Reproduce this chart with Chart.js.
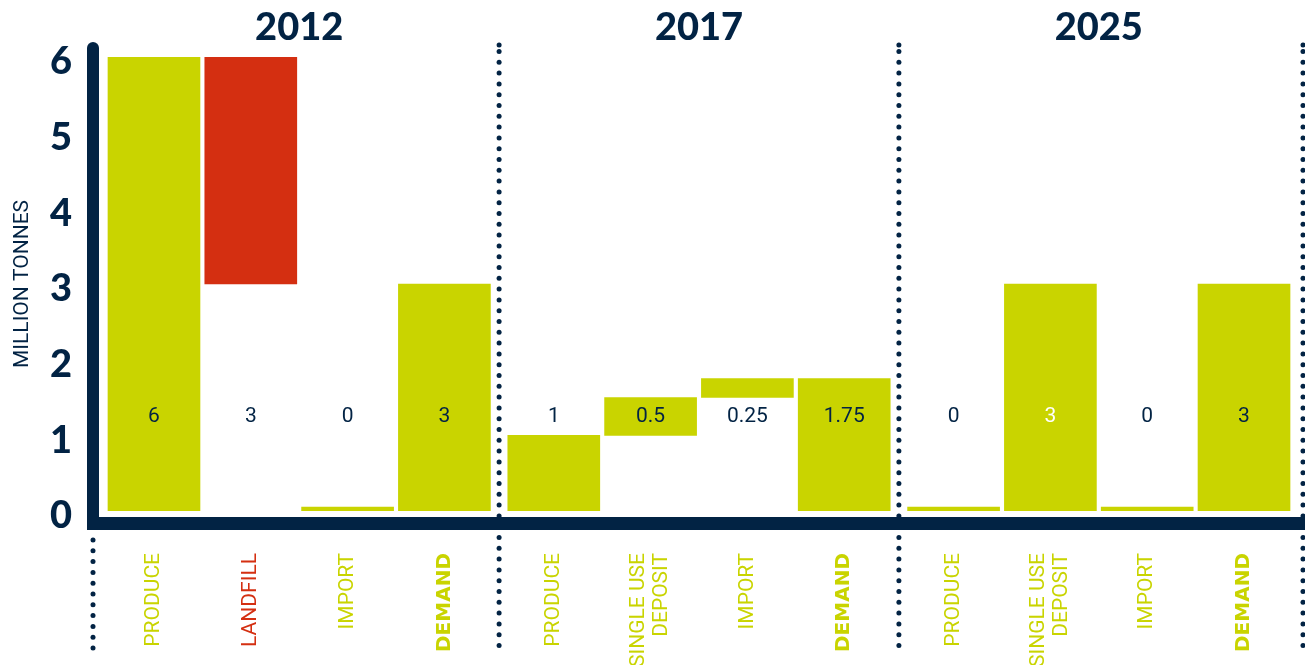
<!DOCTYPE html>
<html><head><meta charset="utf-8">
<script src="https://cdn.jsdelivr.net/npm/chart.js@4.4.1/dist/chart.umd.min.js"></script>
<style>html,body{margin:0;padding:0;background:#fff;overflow:hidden;}canvas{display:block;}</style>
</head><body>
<canvas id="c" width="1305" height="665"></canvas>
<script>
// ---- data ----
const groups = ['2012', '2017', '2025'];
const groupOf = [0, 0, 0, 0, 1, 1, 1, 1, 2, 2, 2, 2];
const categories = [
  'PRODUCE', 'LANDFILL', 'IMPORT', 'DEMAND',
  'PRODUCE', ['SINGLE USE', 'DEPOSIT'], 'IMPORT', 'DEMAND',
  'PRODUCE', ['SINGLE USE', 'DEPOSIT'], 'IMPORT', 'DEMAND'
];
const amounts = [6, 3, 0, 3, 1, 0.5, 0.25, 1.75, 0, 3, 0, 3];
const bases   = [0, 3, 0, 0, 0, 1, 1.5, 0, 0, 0, 0, 0];
const yTicks = [0, 1, 2, 3, 4, 5, 6];
const yTitle = 'MILLION TONNES';

// ---- style ----
const NAVY = '#022344', LIME = '#c9d400', RED = '#d42f11';
const GROUP_STRIDE = 4.13;           // slot units per group (incl. gap)
const VALUE_LABEL_LEVEL = 1.25;      // y value where amount labels sit
const isLandfill = c => c === 'LANDFILL';
const isDemand = c => c === 'DEMAND';
const slotPos = categories.map((c, i) => groupOf[i] * GROUP_STRIDE + (i - groupOf.indexOf(groupOf[i])));
const barColors = categories.map(c => isLandfill(c) ? RED : LIME);
const labelColors = categories.map((c, i) => (groupOf[i] === 2 && Array.isArray(c)) ? '#ffffff' : NAVY);
const SANS = "Roboto, sans-serif";

const decor = {
  id: 'decor',
  beforeDraw(chart) {
    // centre multi-line rotated category labels on their bars
    const x = chart.scales.x;
    const items = x.getLabelItems(chart.chartArea);
    items.forEach(it => {
      if (Array.isArray(it.label) && it.label.length > 1) {
        it.options.translation[0] -= (it.label.length - 1) * it.font.lineHeight / 2;
      }
    });
  },
  beforeDatasetsDraw(chart) {
    const {ctx, chartArea: ca, scales: {x}} = chart;
    ctx.save();
    ctx.fillStyle = NAVY;
    const dot = (px, y) => { ctx.beginPath(); ctx.arc(px, y, 2.5, 0, Math.PI * 2); ctx.fill(); };
    const dotCol = (px, y0, y1) => { for (let y = y0; y <= y1; y += 10.8) dot(px, y); };
    for (let g = 0; g < groups.length - 1; g++) {
      const lastI = groupOf.lastIndexOf(g), firstI = groupOf.indexOf(g + 1);
      const px = (x.getPixelForValue(slotPos[lastI]) + x.getPixelForValue(slotPos[firstI])) / 2;
      dotCol(px, ca.top - 5.5, 650);
      dot(px, ca.top - 12);
    }
    dotCol(ca.right - 2, ca.top - 5.5, 650);
    dot(ca.right - 2, ca.top - 12);
    dotCol(ca.left - 6, ca.bottom + 29, 650);
    ctx.restore();
  },
  afterDatasetsDraw(chart) {
    const {ctx, chartArea: ca, scales: {x, y}} = chart;
    ctx.save();
    // axes
    ctx.strokeStyle = NAVY;
    ctx.lineWidth = 12;
    ctx.lineCap = 'round';
    ctx.beginPath(); ctx.moveTo(ca.left - 6, ca.top - 9); ctx.lineTo(ca.left - 6, ca.bottom + 12); ctx.stroke();
    ctx.fillStyle = NAVY;
    ctx.fillRect(ca.left - 12, ca.bottom + 6, ca.right - ca.left + 12, 13);
    // amount labels
    ctx.font = "400 21px " + SANS;
    ctx.textAlign = 'center'; ctx.textBaseline = 'middle';
    const ly = y.getPixelForValue(VALUE_LABEL_LEVEL);
    amounts.forEach((a, i) => {
      ctx.fillStyle = labelColors[i];
      ctx.fillText(String(a), x.getPixelForValue(slotPos[i]), ly);
    });
    // group titles
    ctx.font = "900 38px Lato, sans-serif";
    ctx.fillStyle = NAVY;
    groups.forEach((gname, g) => {
      const a = x.getPixelForValue(slotPos[groupOf.indexOf(g)]);
      const b = x.getPixelForValue(slotPos[groupOf.lastIndexOf(g)]);
      ctx.fillText(gname, (a + b) / 2, ca.top - 29);
    });
    ctx.restore();
  }
};

new Chart(document.getElementById('c'), {
  type: 'bar',
  data: {
    datasets: [{
      data: amounts.map((a, i) => ({x: slotPos[i], y: [bases[i], bases[i] + a]})),
      backgroundColor: barColors,
      borderWidth: 0,
      barThickness: 92,
      minBarLength: 4
    }]
  },
  options: {
    responsive: false,
    animation: false,
    devicePixelRatio: 1,
    layout: {padding: {top: 57, left: 0, right: 0, bottom: 0}},
    plugins: {legend: {display: false}, tooltip: {enabled: false}},
    scales: {
      x: {
        type: 'linear',
        offset: false,
        min: -0.568, max: 11.89,
        grid: {display: false, drawTicks: false, offset: false},
        border: {display: false},
        afterBuildTicks: s => { s.ticks = slotPos.map(v => ({value: v})); },
        afterFit: s => { s.height = 154; s.paddingLeft = 0; s.paddingRight = 0; },
        ticks: {
          autoSkip: false, maxRotation: 90, minRotation: 90, padding: 42,
          callback: (v, i) => categories[i],
          color: c => isLandfill(categories[c.index]) ? RED : LIME,
          font: c => isDemand(categories[c.index])
            ? {family: "'DejaVu Sans', sans-serif", weight: 'bold', size: 20, lineHeight: 1.1}
            : {family: SANS, weight: 'normal', size: 21, lineHeight: 1.1}
        }
      },
      y: {
        min: 0, max: 6,
        grid: {display: false, drawTicks: false},
        border: {display: false},
        afterBuildTicks: s => { s.ticks = yTicks.map(v => ({value: v})); },
        afterFit: s => { s.width = 99; },
        ticks: {color: NAVY, padding: 27, labelOffset: 5, font: {family: 'Lato, sans-serif', weight: 900, size: 38}},
        title: {display: true, text: yTitle, color: NAVY, padding: {top: 10, bottom: 0},
                font: {family: SANS, size: 21, weight: 'normal', lineHeight: 1.2}}
      }
    }
  },
  plugins: [decor]
});
</script>
</body></html>
